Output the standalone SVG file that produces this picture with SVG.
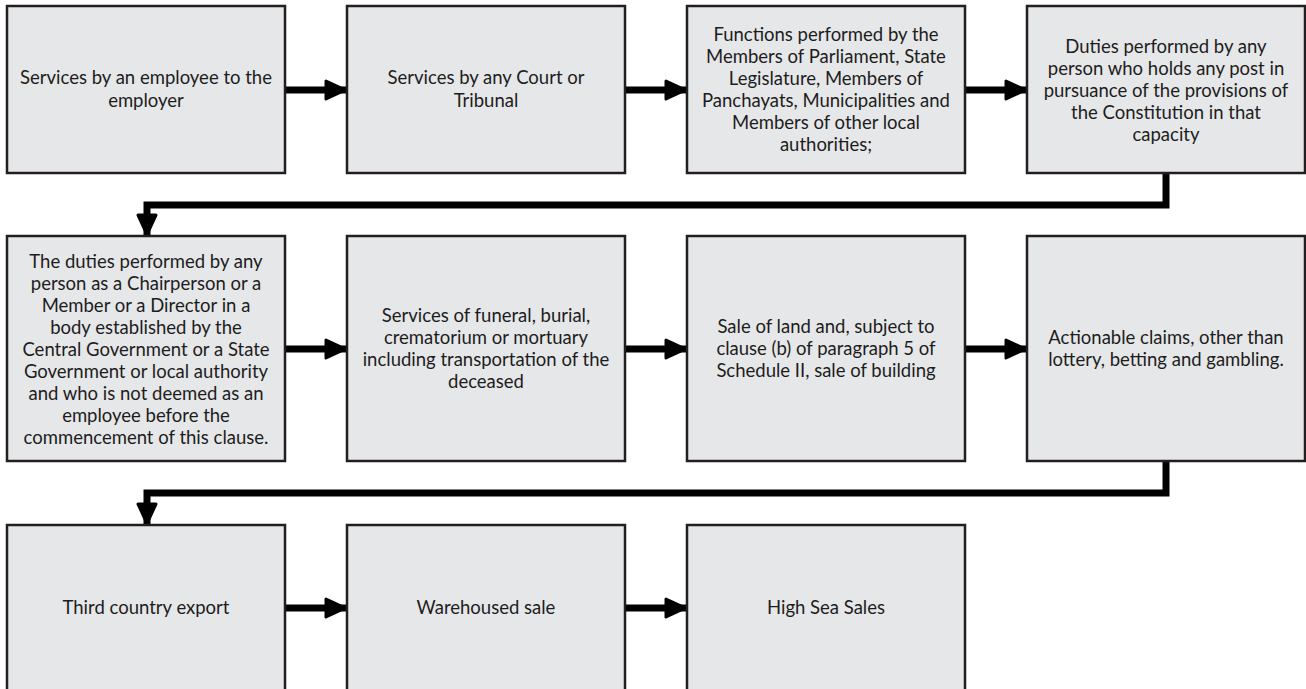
<svg xmlns="http://www.w3.org/2000/svg" width="1306" height="689" viewBox="0 0 1306 689">
  <defs>
    <style>
      .box { fill: #e6e7e8; stroke: #231f20; stroke-width: 2.5; }
      .lbl { font-family: Lato, "Liberation Sans", sans-serif; font-size: 18.5px; fill: #1d1d1d; text-anchor: middle; }
      .wire { fill: none; stroke: #000; stroke-width: 7; stroke-linejoin: miter; }
    </style>
    <marker id="arrow" viewBox="0 0 24 22" refX="22" refY="11" markerWidth="24" markerHeight="22" markerUnits="userSpaceOnUse" orient="auto">
      <path d="M2 2 L21.5 11 L2 20 Z" fill="#000" stroke="#000" stroke-width="3" stroke-linejoin="round"/>
    </marker>
  </defs>
  <rect width="1306" height="689" fill="#fff"/>

  <!-- connectors -->
  <g id="connectors">
    <path class="wire" d="M285 90 H346" marker-end="url(#arrow)"/>
    <path class="wire" d="M625 90 H686" marker-end="url(#arrow)"/>
    <path class="wire" d="M965 90 H1026" marker-end="url(#arrow)"/>
    <path class="wire" d="M1166 173 V205 H147 V235" marker-end="url(#arrow)"/>
    <path class="wire" d="M285 349 H346" marker-end="url(#arrow)"/>
    <path class="wire" d="M625 349 H686" marker-end="url(#arrow)"/>
    <path class="wire" d="M965 349 H1026" marker-end="url(#arrow)"/>
    <path class="wire" d="M1166 461 V493 H147 V524" marker-end="url(#arrow)"/>
    <path class="wire" d="M285 608 H346" marker-end="url(#arrow)"/>
    <path class="wire" d="M625 608 H686" marker-end="url(#arrow)"/>
  </g>

  <!-- row 1 -->
  <g id="n1">
    <rect class="box" x="7" y="6" width="278" height="167"/>
    <text class="lbl"><tspan x="146" y="84">Services by an employee to the</tspan><tspan x="146" y="107">employer</tspan></text>
  </g>
  <g id="n2">
    <rect class="box" x="347" y="6" width="278" height="167"/>
    <text class="lbl"><tspan x="486" y="84">Services by any Court or</tspan><tspan x="486" y="107">Tribunal</tspan></text>
  </g>
  <g id="n3">
    <rect class="box" x="687" y="6" width="278" height="167"/>
    <text class="lbl"><tspan x="826" y="41">Functions performed by the</tspan><tspan x="826" y="63">Members of Parliament, State</tspan><tspan x="826" y="85">Legislature, Members of</tspan><tspan x="826" y="107">Panchayats, Municipalities and</tspan><tspan x="826" y="129">Members of other local</tspan><tspan x="826" y="151">authorities;</tspan></text>
  </g>
  <g id="n4">
    <rect class="box" x="1027" y="6" width="278" height="167"/>
    <text class="lbl"><tspan x="1166" y="53">Duties performed by any</tspan><tspan x="1166" y="75">person who holds any post in</tspan><tspan x="1166" y="97">pursuance of the provisions of</tspan><tspan x="1166" y="119">the Constitution in that</tspan><tspan x="1166" y="141">capacity</tspan></text>
  </g>

  <!-- row 2 -->
  <g id="n5">
    <rect class="box" x="7" y="236" width="278" height="225"/>
    <text class="lbl"><tspan x="146" y="268">The duties performed by any</tspan><tspan x="146" y="290">person as a Chairperson or a</tspan><tspan x="146" y="312">Member or a Director in a</tspan><tspan x="146" y="334">body established by the</tspan><tspan x="146" y="356">Central Government or a State</tspan><tspan x="146" y="378">Government or local authority</tspan><tspan x="146" y="400">and who is not deemed as an</tspan><tspan x="146" y="422">employee before the</tspan><tspan x="146" y="444">commencement of this clause.</tspan></text>
  </g>
  <g id="n6">
    <rect class="box" x="347" y="236" width="278" height="225"/>
    <text class="lbl"><tspan x="486" y="322">Services of funeral, burial,</tspan><tspan x="486" y="344">crematorium or mortuary</tspan><tspan x="486" y="366">including transportation of the</tspan><tspan x="486" y="388">deceased</tspan></text>
  </g>
  <g id="n7">
    <rect class="box" x="687" y="236" width="278" height="225"/>
    <text class="lbl"><tspan x="826" y="333">Sale of land and, subject to</tspan><tspan x="826" y="355">clause (b) of paragraph 5 of</tspan><tspan x="826" y="377">Schedule II, sale of building</tspan></text>
  </g>
  <g id="n8">
    <rect class="box" x="1027" y="236" width="278" height="225"/>
    <text class="lbl"><tspan x="1166" y="344">Actionable claims, other than</tspan><tspan x="1166" y="366">lottery, betting and gambling.</tspan></text>
  </g>

  <!-- row 3 -->
  <g id="n9">
    <rect class="box" x="7" y="525" width="278" height="180"/>
    <text class="lbl"><tspan x="146" y="614">Third country export</tspan></text>
  </g>
  <g id="n10">
    <rect class="box" x="347" y="525" width="278" height="180"/>
    <text class="lbl"><tspan x="486" y="614">Warehoused sale</tspan></text>
  </g>
  <g id="n11">
    <rect class="box" x="687" y="525" width="278" height="180"/>
    <text class="lbl"><tspan x="826" y="614">High Sea Sales</tspan></text>
  </g>
</svg>
